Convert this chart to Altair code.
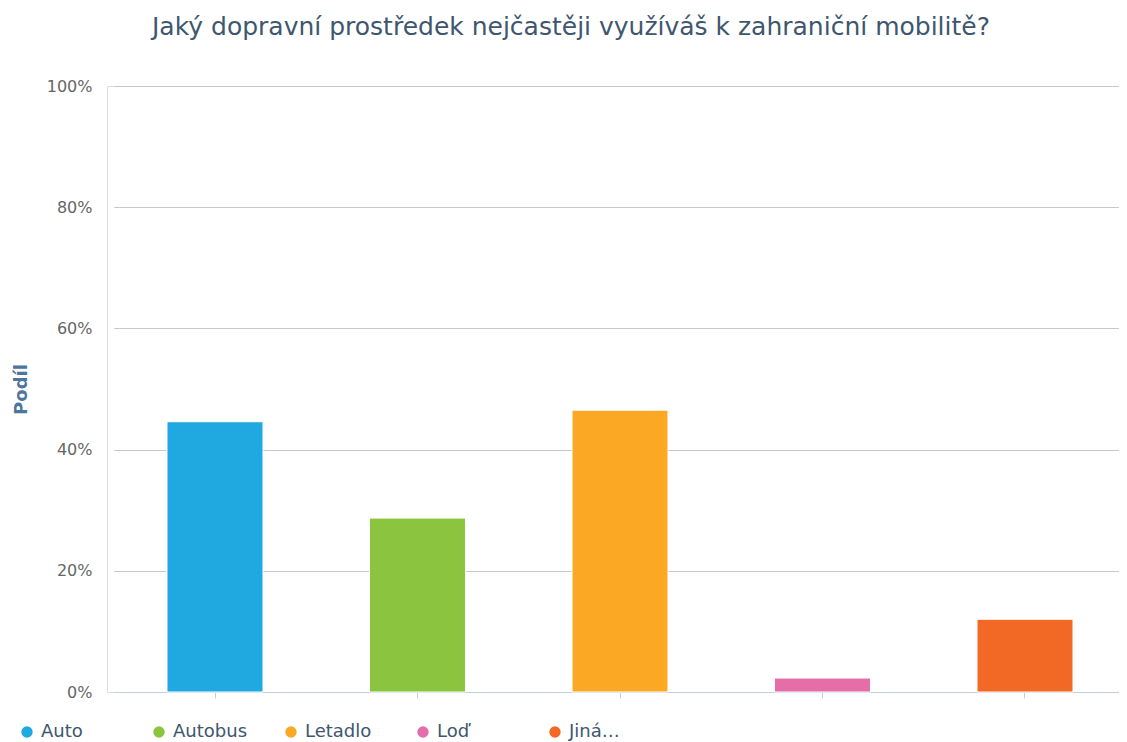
import altair as alt
import pandas as pd

categories = ["Auto", "Autobus", "Letadlo", "Loď", "Jiná…"]
values = [44.6, 28.7, 46.5, 2.3, 12.0]
colors = ["#20a9e1", "#8bc53f", "#fba924", "#e56ea9", "#f26925"]
y_ticks = [0, 20, 40, 60, 80, 100]

df = pd.DataFrame({"kategorie": categories, "podil": values})

FONT = "DejaVu Sans"

chart = alt.Chart(df).mark_bar(stroke="white", strokeWidth=1).encode(
    x=alt.X(
        "kategorie:N",
        sort=categories,
        scale=alt.Scale(paddingInner=0.526, paddingOuter=0.263, range=[6.75, 1019.25]),
        axis=alt.Axis(labels=False, title=None, domainColor="#c0d0e0", tickColor="#c0d0e0",
                      tickSize=6, grid=False, domainWidth=1),
    ),
    y=alt.Y(
        "podil:Q",
        scale=alt.Scale(domain=[0, 100]),
        axis=alt.Axis(values=y_ticks, labelExpr="datum.value + '%'", title="Podíl",
                      domain=False, ticks=False, tickSize=0, labelPadding=15,
                      labelColor="#666666", labelFontSize=16, labelFont=FONT,
                      gridColor="#c8c8c8", gridWidth=1,
                      titleColor="#4d759e", titleFontWeight="bold", titleFontSize=18,
                      titleFont=FONT, titleX=-77, titleY=303),
    ),
    color=alt.Color(
        "kategorie:N",
        sort=categories,
        scale=alt.Scale(domain=categories, range=colors),
        legend=alt.Legend(title=None, orient="none", legendX=-89, legendY=637,
                          direction="horizontal", columns=5, gridAlign="all",
                          columnPadding=34, symbolType="circle", symbolSize=130,
                          symbolStrokeWidth=0, labelFontSize=18, labelFont=FONT,
                          labelColor="#3E576F", labelOffset=5, labelLimit=200),
    ),
).properties(
    width=1012,
    height=606,
    padding={"left": 99, "top": 78, "right": 0, "bottom": 58},
    autosize=alt.AutoSizeParams(type="none"),
    title=alt.TitleParams(
        "Jaký dopravní prostředek nejčastěji využíváš k zahraniční mobilitě?",
        anchor="start", frame="group", dx=45, offset=38,
        font=FONT, fontSize=25, fontWeight="normal", color="#3E576F",
    ),
).configure_view(stroke="transparent", strokeWidth=0).configure(background="white")

chart.save("out.html", embed_options={"renderer": "svg", "actions": False})
